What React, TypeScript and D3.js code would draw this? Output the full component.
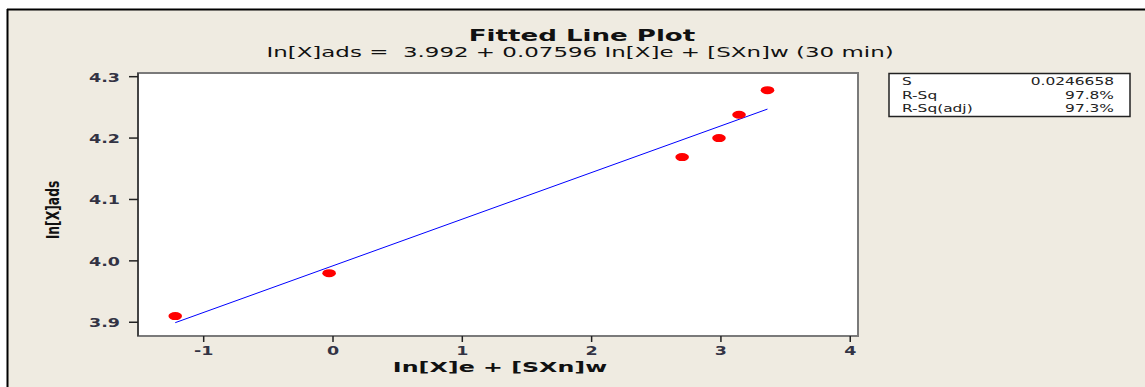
import React from "react";
import * as d3 from "d3";

const xValues = [-1.22, -0.03, 2.7, 2.985, 3.14, 3.36];
const yValues = [3.91, 3.98, 4.169, 4.2, 4.238, 4.278];
const intercept = 3.992;
const slope = 0.07596;
const xTicks = [-1, 0, 1, 2, 3, 4];
const yTicks = [3.9, 4.0, 4.1, 4.2, 4.3];
const statLabels = ["S", "R-Sq", "R-Sq(adj)"];
const statValues = ["0.0246658", "97.8%", "97.3%"];

const W = 1145, H = 387;
const plot = { left: 138, right: 858, top: 73, bottom: 336 };
const font = "Tahoma, 'DejaVu Sans', Verdana, sans-serif";

// the reference is stretched sideways, so texts get a horizontal scale
function Txt(props: any) {
  const { x, y, sx = 1, anchor = "start", size = 12, bold = false, fill = "#111", children } = props;
  return (
    <text transform={`translate(${x},${y}) scale(${sx},1)`} textAnchor={anchor} fontFamily={font}
      fontSize={size} fontWeight={bold ? "bold" : "normal"} fill={fill} xmlSpace="preserve">
      {children}
    </text>
  );
}

export default function App() {
  const x = d3.scaleLinear().domain([-1.508, 4.06]).range([plot.left, plot.right]);
  const y = d3.scaleLinear().domain([3.8776, 4.306]).range([plot.bottom, plot.top]);

  const xMin = d3.min(xValues)!, xMax = d3.max(xValues)!;
  const fit = d3.line<number>().x(d => x(d)).y(d => y(intercept + slope * d));

  return (
    <svg width={W} height={H} style={{ position: "absolute", left: 0, top: 0 }}>
      <rect x={0} y={0} width={W} height={H} fill="#ffffff" />
      <rect x={8} y={10} width={W - 8} height={H - 10} fill="#EFEBE1" />
      <line x1={7} y1={9.5} x2={W} y2={9.5} stroke="#000" strokeWidth={2} />
      <line x1={7.5} y1={9} x2={7.5} y2={H} stroke="#000" strokeWidth={2} />

      <Txt x={582} y={41} sx={1.74} anchor="middle" size={15} bold>Fitted Line Plot</Txt>
      <Txt x={580} y={57} sx={1.7} anchor="middle" size={13.5}>In[X]ads =  3.992 + 0.07596 In[X]e + [SXn]w (30 min)</Txt>

      <rect x={plot.left} y={plot.top} width={plot.right - plot.left} height={plot.bottom - plot.top}
        fill="#fff" stroke="#7a7a7a" strokeWidth={2} />
      <line x1={plot.left} x2={plot.left} y1={plot.top} y2={plot.bottom} stroke="#444" strokeWidth={2} />

      {xTicks.map(t => (
        <g key={"x" + t}>
          <line x1={x(t)} x2={x(t)} y1={plot.bottom} y2={plot.bottom + 6} stroke="#222" strokeWidth={1.5} />
          <Txt x={x(t)} y={plot.bottom + 19} sx={1.4} anchor="middle" size={12.5} bold fill="#333344">{t}</Txt>
        </g>
      ))}
      {yTicks.map(t => (
        <g key={"y" + t}>
          <line x1={plot.left - 9} x2={plot.left} y1={y(t)} y2={y(t)} stroke="#222" strokeWidth={1.5} />
          <Txt x={plot.left - 18} y={y(t) + 5} sx={1.4} anchor="end" size={12.5} bold fill="#333344">{t.toFixed(1)}</Txt>
        </g>
      ))}

      <Txt x={500} y={372} sx={1.76} anchor="middle" size={13.5} bold>In[X]e + [SXn]w</Txt>
      <text transform="translate(59, 210) rotate(-90) scale(0.95,1.35)" textAnchor="middle" fontFamily={font}
        fontWeight="bold" fontSize={13} fill="#111">
        In[X]ads
      </text>

      <path d={fit([xMin, xMax]) || ""} fill="none" stroke="#0000ff" strokeWidth={1} />
      {xValues.map((v, i) => (
        <ellipse key={i} cx={x(v)} cy={y(yValues[i])} rx={6.8} ry={4} fill="#ff0000" />
      ))}

      <rect x={889} y={73.5} width={241} height={43} fill="#fff" stroke="#222" strokeWidth={1.5} />
      {statLabels.map((s, i) => (
        <g key={s}>
          <Txt x={902} y={[85, 99, 112][i]} sx={1.4} size={11} fill="#222">{s}</Txt>
          <Txt x={1114} y={[85, 99, 112][i]} sx={1.4} anchor="end" size={11} fill="#222">{statValues[i]}</Txt>
        </g>
      ))}
    </svg>
  );
}
